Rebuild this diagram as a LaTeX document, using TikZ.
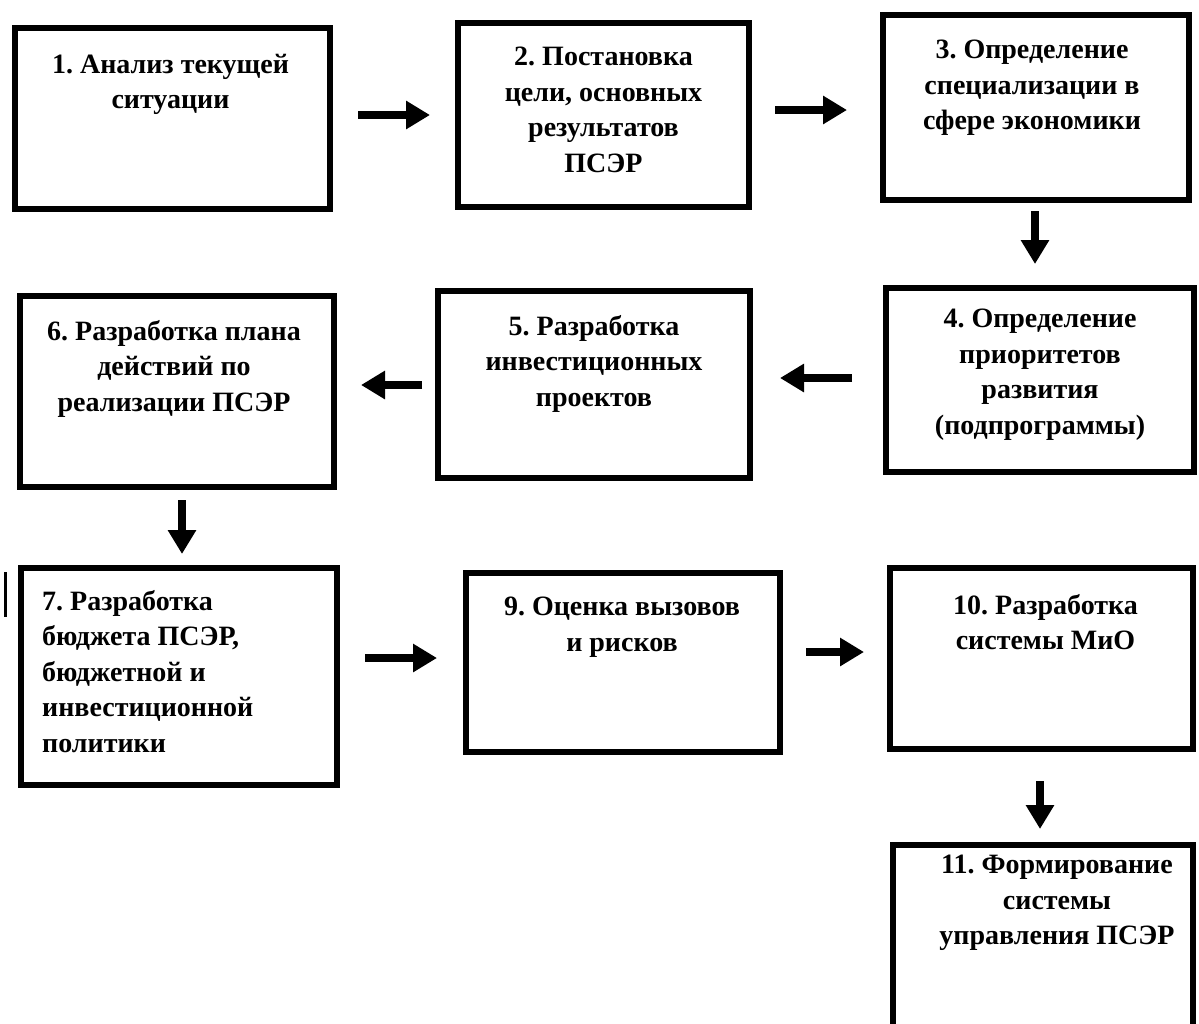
\documentclass[tikz,border=0pt]{standalone}
\usepackage{fontspec}
\setmainfont{Liberation Serif}
\usetikzlibrary{arrows.meta,calc}
\begin{document}
\frenchspacing
\begin{tikzpicture}[x=1pt,y=-1pt,
  box/.style={draw, line width=6pt, rectangle, inner sep=0pt},
  txt/.style={font=\fontsize{28}{35.5}\selectfont\bfseries, align=center, inner sep=0pt, anchor=north},
  arr/.style={line width=7.5pt, -{Triangle[length=24pt,width=27pt]}}]
\useasboundingbox (0,0) rectangle (1199,1023);
\fill[white] (0,0) rectangle (1199,1023);
% boxes
\node[box, minimum width=315pt, minimum height=181pt] (b1) at (172.5,118.5) {};
\node[box, minimum width=291pt, minimum height=184pt] (b2) at (603.5,115) {};
\node[box, minimum width=306pt, minimum height=185pt] (b3) at (1036,107.5) {};
\node[box, minimum width=308pt, minimum height=184pt] (b4) at (1040,380) {};
\node[box, minimum width=312pt, minimum height=187pt] (b5) at (594,384.5) {};
\node[box, minimum width=314pt, minimum height=191pt] (b6) at (177,391.5) {};
\node[box, minimum width=316pt, minimum height=217pt] (b7) at (179,676.5) {};
\node[box, minimum width=314pt, minimum height=179pt] (b9) at (623,662.5) {};
\node[box, minimum width=303pt, minimum height=181pt] (b10) at (1041.5,658.5) {};
\node[box, minimum width=300pt, minimum height=187pt] (b11) at (1043,938.5) {};
% texts
\node[txt] (t1) at ($(b1.north)+(-2,29)$) {1. Анализ текущей\\ситуации};
\node[txt] (t2) at ($(b2.north)+(0,27)$) {2. Постановка\\цели, основных\\результатов\\ПСЭР};
\node[txt] (t3) at ($(b3.north)+(-4,28)$) {3. Определение\\специализации в\\сфере экономики};
\node[txt] (t4) at ($(b4.north)+(0,24)$) {4. Определение\\приоритетов\\развития\\(подпрограммы)};
\node[txt] (t5) at ($(b5.north)+(0,27)$) {5. Разработка\\инвестиционных\\проектов};
\node[txt] (t6) at ($(b6.north)+(-3,27)$) {6. Разработка плана\\действий по\\реализации ПСЭР};
\node[txt, align=left, anchor=north west] (t7) at ($(b7.north west)+(24,25)$) {7. Разработка\\бюджета ПСЭР,\\бюджетной и\\инвестиционной\\политики};
\node[txt] (t9) at ($(b9.north)+(-1,27)$) {9. Оценка вызовов\\и рисков};
\node[txt] (t10) at ($(b10.north)+(4,29)$) {10. Разработка\\системы МиО};
\node[txt] (t11) at ($(b11.north)+(14,13)$) {11. Формирование\\системы\\управления ПСЭР};
% arrows
\draw[arr] ($(b1.east)+(25,-3.5)$) -- ($(b2.west)+(-25,0)$);
\draw[arr] ($(b2.east)+(23,-5)$) -- ($(b3.west)+(-33,2.5)$);
\draw[arr] ($(b3.south)+(-1,8)$) -- ($(b4.north)+(-5,-21)$);
\draw[arr] ($(b4.west)+(-31,-2)$) -- ($(b5.east)+(27,-6.5)$);
\draw[arr] ($(b5.west)+(-13,0.5)$) -- ($(b6.east)+(24,-6.5)$);
\draw[arr] ($(b6.south)+(5,10)$) -- ($(b7.north)+(3,-11)$);
\draw[arr] ($(b7.east)+(25,-18.5)$) -- ($(b9.west)+(-26,-4.5)$);
\draw[arr] ($(b9.east)+(23,-10.5)$) -- ($(b10.west)+(-23,-6.5)$);
\draw[arr] ($(b10.south)+(-1.5,29)$) -- ($(b11.north)+(-3,-13)$);
% stray mark
\draw[line width=3pt] (5,572) -- (5,617);
\end{tikzpicture}
\end{document}
